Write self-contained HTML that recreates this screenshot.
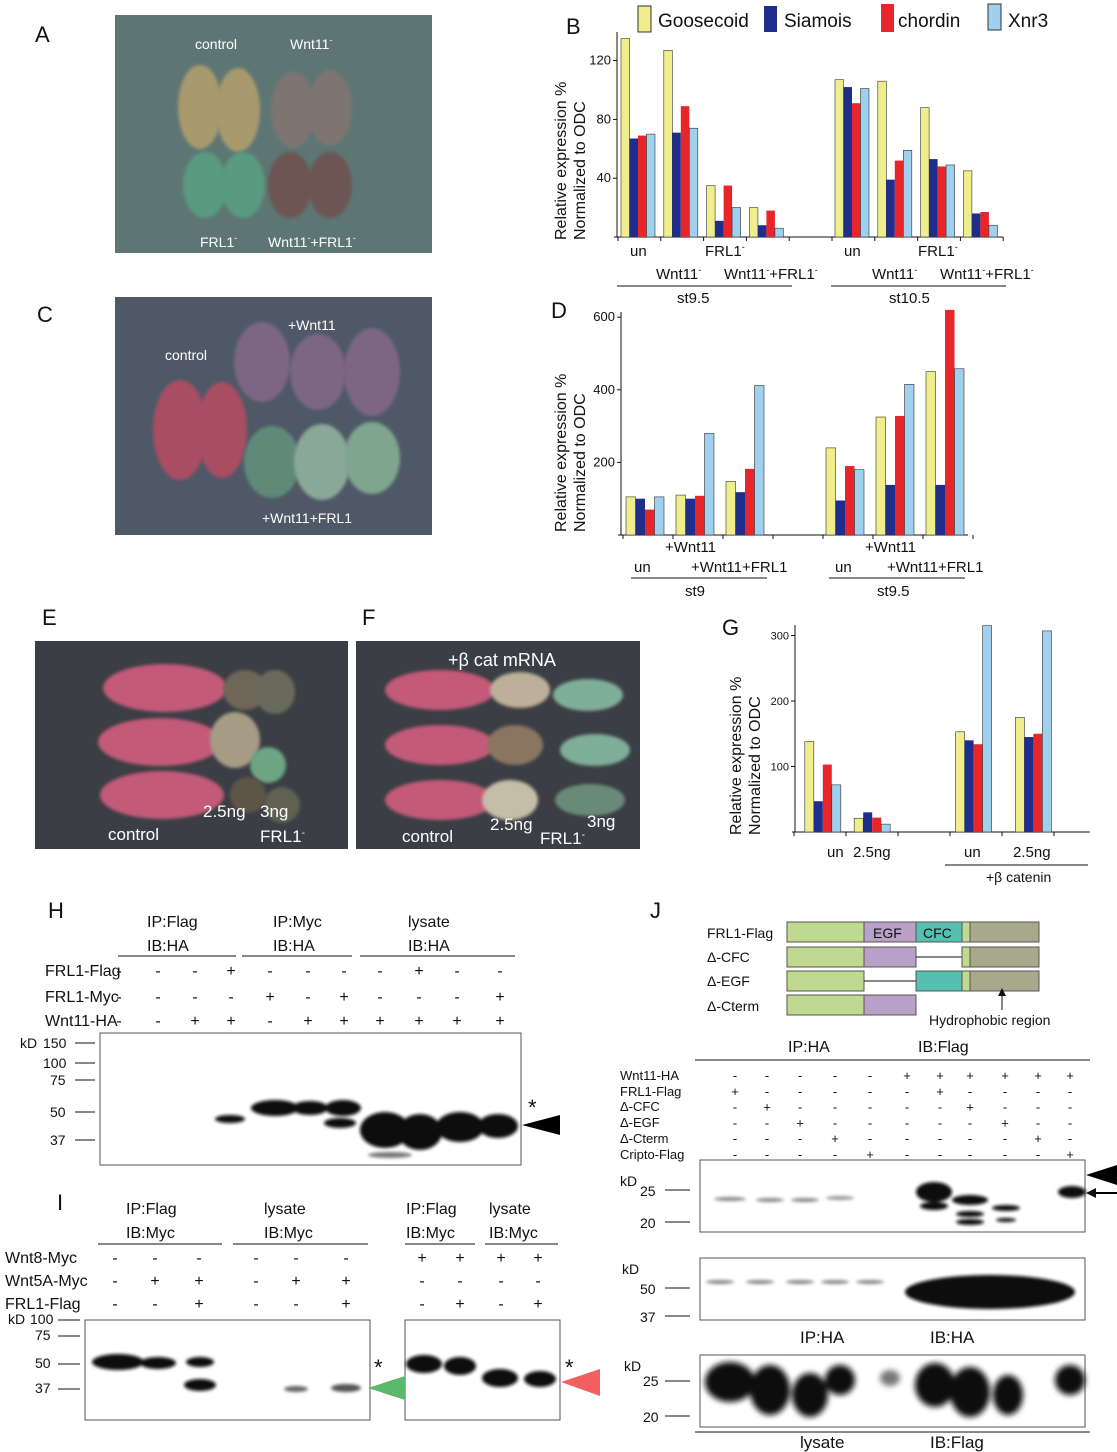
<!DOCTYPE html>
<html><head><meta charset="utf-8"><style>
body{margin:0;background:#fff;}
svg{display:block;font-family:"Liberation Sans",sans-serif;}
</style></head><body>
<svg id="fig" width="1117" height="1452" viewBox="0 0 1117 1452" xmlns="http://www.w3.org/2000/svg">
<defs>
<filter id="bl" x="-50%" y="-50%" width="200%" height="200%"><feGaussianBlur stdDeviation="3"/></filter>
<filter id="bl2" x="-50%" y="-50%" width="200%" height="200%"><feGaussianBlur stdDeviation="1.5"/></filter>
</defs>
<g font-size="22" fill="#111">
<text x="35" y="42">A</text><text x="566" y="34">B</text><text x="37" y="322">C</text><text x="551" y="318">D</text>
<text x="42" y="625">E</text><text x="362" y="625">F</text><text x="722" y="635">G</text>
<text x="48" y="918">H</text><text x="57" y="1210">I</text><text x="650" y="918">J</text>
</g>
<g>
<rect x="115" y="15" width="317" height="238" fill="#5d7674"/>
<ellipse cx="200" cy="107" rx="22" ry="42" fill="#a89a6c" filter="url(#bl2)"/>
<ellipse cx="238" cy="110" rx="22" ry="42" fill="#a89a6c" filter="url(#bl2)"/>
<ellipse cx="293" cy="110" rx="22" ry="38" fill="#7e7470" filter="url(#bl2)"/>
<ellipse cx="330" cy="108" rx="22" ry="38" fill="#7e7470" filter="url(#bl2)"/>
<ellipse cx="205" cy="185" rx="22" ry="33" fill="#5a9a80" filter="url(#bl2)"/>
<ellipse cx="243" cy="185" rx="22" ry="33" fill="#5a9a80" filter="url(#bl2)"/>
<ellipse cx="290" cy="185" rx="22" ry="33" fill="#6d5552" filter="url(#bl2)"/>
<ellipse cx="330" cy="185" rx="22" ry="33" fill="#6d5552" filter="url(#bl2)"/>
<text x="195" y="49" font-size="14" fill="#fff">control</text>
<text x="290" y="49" font-size="14" fill="#fff">Wnt11<tspan dy="-6" font-size="9">-</tspan></text>
<text x="200" y="247" font-size="14" fill="#fff">FRL1<tspan dy="-6" font-size="9">-</tspan></text>
<text x="268" y="247" font-size="14" fill="#fff">Wnt11<tspan font-size="9" dy="-6">-</tspan><tspan dy="6">+FRL1</tspan><tspan font-size="9" dy="-6">-</tspan></text>
</g>
<g>
<rect x="115" y="297" width="317" height="238" fill="#4e5866"/>
<ellipse cx="180" cy="430" rx="27" ry="50" fill="#a94e63" filter="url(#bl2)"/>
<ellipse cx="222" cy="430" rx="25" ry="48" fill="#a94e63" filter="url(#bl2)"/>
<ellipse cx="262" cy="362" rx="28" ry="40" fill="#7d6683" filter="url(#bl2)"/>
<ellipse cx="318" cy="372" rx="28" ry="38" fill="#7d6683" filter="url(#bl2)"/>
<ellipse cx="372" cy="372" rx="28" ry="44" fill="#7d6683" filter="url(#bl2)"/>
<ellipse cx="272" cy="462" rx="28" ry="36" fill="#5e8a7a" filter="url(#bl2)"/>
<ellipse cx="322" cy="462" rx="28" ry="38" fill="#8aa898" filter="url(#bl2)"/>
<ellipse cx="372" cy="458" rx="28" ry="36" fill="#7fa58f" filter="url(#bl2)"/>
<text x="165" y="360" font-size="14" fill="#fff">control</text>
<text x="288" y="330" font-size="14" fill="#fff">+Wnt11</text>
<text x="262" y="523" font-size="14" fill="#fff">+Wnt11+FRL1</text>
</g>
<g>
<rect x="35" y="641" width="313" height="208" fill="#3b3e44"/>
<ellipse cx="165" cy="688" rx="62" ry="24" fill="#c35a78" filter="url(#bl2)"/>
<ellipse cx="160" cy="742" rx="62" ry="24" fill="#c35a78" filter="url(#bl2)"/>
<ellipse cx="162" cy="795" rx="62" ry="24" fill="#c35a78" filter="url(#bl2)"/>
<ellipse cx="245" cy="690" rx="22" ry="20" fill="#6f6658" filter="url(#bl2)"/>
<ellipse cx="275" cy="692" rx="20" ry="22" fill="#6b6b5c" filter="url(#bl2)"/>
<ellipse cx="235" cy="740" rx="25" ry="28" fill="#a69b84" filter="url(#bl2)"/>
<ellipse cx="268" cy="765" rx="18" ry="18" fill="#6ea585" filter="url(#bl2)"/>
<ellipse cx="248" cy="795" rx="18" ry="18" fill="#5f5547" filter="url(#bl2)"/>
<ellipse cx="282" cy="805" rx="18" ry="18" fill="#606052" filter="url(#bl2)"/>
<text x="108" y="840" font-size="17" fill="#fff">control</text>
<text x="203" y="817" font-size="17" fill="#fff">2.5ng</text><text x="260" y="817" font-size="17" fill="#fff">3ng</text>
<text x="260" y="842" font-size="17" fill="#fff">FRL1<tspan dy="-6" font-size="10">-</tspan></text>
</g>
<g>
<rect x="356" y="641" width="284" height="208" fill="#3b3e44"/>
<ellipse cx="440" cy="690" rx="55" ry="20" fill="#c35a78" filter="url(#bl2)"/>
<ellipse cx="440" cy="745" rx="55" ry="20" fill="#c35a78" filter="url(#bl2)"/>
<ellipse cx="440" cy="800" rx="55" ry="20" fill="#c35a78" filter="url(#bl2)"/>
<ellipse cx="520" cy="690" rx="30" ry="18" fill="#bdb09a" filter="url(#bl2)"/>
<ellipse cx="515" cy="745" rx="28" ry="20" fill="#8a7660" filter="url(#bl2)"/>
<ellipse cx="510" cy="800" rx="28" ry="20" fill="#c6bda8" filter="url(#bl2)"/>
<ellipse cx="588" cy="695" rx="35" ry="16" fill="#7faf98" filter="url(#bl2)"/>
<ellipse cx="595" cy="750" rx="35" ry="16" fill="#7faf98" filter="url(#bl2)"/>
<ellipse cx="590" cy="800" rx="35" ry="16" fill="#6a8a78" filter="url(#bl2)"/>
<text x="448" y="666" font-size="18" fill="#fff">+β cat mRNA</text>
<text x="402" y="842" font-size="17" fill="#fff">control</text>
<text x="490" y="830" font-size="17" fill="#fff">2.5ng</text><text x="587" y="827" font-size="17" fill="#fff">3ng</text>
<text x="540" y="844" font-size="17" fill="#fff">FRL1<tspan dy="-6" font-size="10">-</tspan></text>
</g>
<g font-size="19" fill="#111">
<rect x="638" y="6" width="13" height="26" fill="#f0ee8c" stroke="#333"/><text x="658" y="27">Goosecoid</text>
<rect x="764" y="6" width="13" height="26" fill="#1f2e8c"/><text x="784" y="27">Siamois</text>
<rect x="881" y="4" width="13" height="28" fill="#e8262a"/><text x="898" y="27">chordin</text>
<rect x="988" y="4" width="13" height="26" fill="#9fd0ee" stroke="#333"/><text x="1008" y="27">Xnr3</text>
</g>
<g id="charts"></g>
<g font-size="15" fill="#111">
<text x="630" y="256">un</text><text x="705" y="256">FRL1<tspan font-size="9" dy="-6">-</tspan></text>
<text x="844" y="256">un</text><text x="918" y="256">FRL1<tspan font-size="9" dy="-6">-</tspan></text>
<text x="656" y="279">Wnt11<tspan font-size="9" dy="-6">-</tspan></text><text x="724" y="279">Wnt11<tspan font-size="9" dy="-6">-</tspan><tspan dy="6">+FRL1</tspan><tspan font-size="9" dy="-6">-</tspan></text>
<text x="872" y="279">Wnt11<tspan font-size="9" dy="-6">-</tspan></text><text x="940" y="279">Wnt11<tspan font-size="9" dy="-6">-</tspan><tspan dy="6">+FRL1</tspan><tspan font-size="9" dy="-6">-</tspan></text>
<line x1="617" y1="286" x2="792" y2="286" stroke="#111"/><line x1="831" y1="286" x2="1006" y2="286" stroke="#111"/>
<text x="677" y="303">st9.5</text><text x="889" y="303">st10.5</text>
<text transform="translate(566,240) rotate(-90)" font-size="16">Relative expression %</text>
<text transform="translate(585,240) rotate(-90)" font-size="16">Normalized to ODC</text>
</g>
<g font-size="15" fill="#111">
<text x="665" y="552">+Wnt11</text><text x="634" y="572">un</text><text x="691" y="572">+Wnt11+FRL1</text>
<text x="865" y="552">+Wnt11</text><text x="835" y="572">un</text><text x="887" y="572">+Wnt11+FRL1</text>
<line x1="631" y1="578" x2="767" y2="578" stroke="#111"/><line x1="829" y1="578" x2="965" y2="578" stroke="#111"/>
<text x="685" y="596">st9</text><text x="877" y="596">st9.5</text>
<text transform="translate(566,532) rotate(-90)" font-size="16">Relative expression %</text>
<text transform="translate(585,532) rotate(-90)" font-size="16">Normalized to ODC</text>
</g>
<g font-size="15" fill="#111">
<text x="827" y="857">un</text><text x="853" y="857">2.5ng</text><text x="964" y="857">un</text><text x="1013" y="857">2.5ng</text>
<line x1="945" y1="865" x2="1088" y2="865" stroke="#111"/>
<text x="986" y="882" font-size="14">+β catenin</text>
<text transform="translate(741,835) rotate(-90)" font-size="16">Relative expression %</text>
<text transform="translate(760,835) rotate(-90)" font-size="16">Normalized to ODC</text>
</g>
<g font-size="16" fill="#111">
<text x="147" y="927">IP:Flag</text><text x="147" y="951">IB:HA</text><text x="273" y="927">IP:Myc</text><text x="273" y="951">IB:HA</text>
<text x="408" y="927">lysate</text><text x="408" y="951">IB:HA</text>
<line x1="118" y1="956" x2="236" y2="956" stroke="#111"/><line x1="242" y1="956" x2="352" y2="956" stroke="#111"/><line x1="360" y1="956" x2="515" y2="956" stroke="#111"/>
<text x="45" y="976">FRL1-Flag</text><text x="45" y="1002">FRL1-Myc</text><text x="45" y="1026">Wnt11-HA</text>
<g text-anchor="middle">
<text x="119" y="976">-</text><text x="158" y="976">-</text><text x="195" y="976">-</text><text x="231" y="976">+</text><text x="270" y="976">-</text><text x="308" y="976">-</text><text x="344" y="976">-</text><text x="380" y="976">-</text><text x="419" y="976">+</text><text x="457" y="976">-</text><text x="500" y="976">-</text>
<text x="119" y="1002">-</text><text x="158" y="1002">-</text><text x="195" y="1002">-</text><text x="231" y="1002">-</text><text x="270" y="1002">+</text><text x="308" y="1002">-</text><text x="344" y="1002">+</text><text x="380" y="1002">-</text><text x="419" y="1002">-</text><text x="457" y="1002">-</text><text x="500" y="1002">+</text>
<text x="119" y="1026">-</text><text x="158" y="1026">-</text><text x="195" y="1026">+</text><text x="231" y="1026">+</text><text x="270" y="1026">-</text><text x="308" y="1026">+</text><text x="344" y="1026">+</text><text x="380" y="1026">+</text><text x="419" y="1026">+</text><text x="457" y="1026">+</text><text x="500" y="1026">+</text>
</g>
<rect x="100" y="1033" width="421" height="132" fill="#fff" stroke="#555"/>
<g font-size="14"><text x="20" y="1048">kD</text><text x="43" y="1048">150</text><text x="43" y="1068">100</text><text x="50" y="1085">75</text><text x="50" y="1117">50</text><text x="50" y="1145">37</text></g>
<g stroke="#111"><line x1="75" y1="1043" x2="95" y2="1043"/><line x1="75" y1="1063" x2="95" y2="1063"/><line x1="75" y1="1080" x2="95" y2="1080"/><line x1="75" y1="1112" x2="95" y2="1112"/><line x1="75" y1="1140" x2="95" y2="1140"/></g>
<g fill="#111" filter="url(#bl2)">
<ellipse cx="230" cy="1119" rx="15" ry="4"/>
<ellipse cx="275" cy="1108" rx="24" ry="8"/><ellipse cx="310" cy="1108" rx="18" ry="7"/><ellipse cx="343" cy="1108" rx="18" ry="8"/><ellipse cx="340" cy="1123" rx="16" ry="5"/>
<ellipse cx="385" cy="1130" rx="25" ry="18"/><ellipse cx="420" cy="1132" rx="22" ry="18"/><ellipse cx="460" cy="1127" rx="24" ry="15"/><ellipse cx="498" cy="1126" rx="20" ry="12"/>
<ellipse cx="390" cy="1155" rx="22" ry="3" fill="#777"/>
</g>
<text x="528" y="1115" font-size="22">*</text>
<polygon points="522,1125 560,1115 560,1135" fill="#000"/>
</g>
<g font-size="16" fill="#111">
<text x="126" y="1214">IP:Flag</text><text x="126" y="1238">IB:Myc</text><text x="264" y="1214">lysate</text><text x="264" y="1238">IB:Myc</text>
<text x="406" y="1214">IP:Flag</text><text x="406" y="1238">IB:Myc</text><text x="489" y="1214">lysate</text><text x="489" y="1238">IB:Myc</text>
<line x1="98" y1="1244" x2="222" y2="1244" stroke="#111"/><line x1="233" y1="1244" x2="368" y2="1244" stroke="#111"/><line x1="405" y1="1244" x2="475" y2="1244" stroke="#111"/><line x1="485" y1="1244" x2="558" y2="1244" stroke="#111"/>
<text x="5" y="1263">Wnt8-Myc</text><text x="5" y="1286">Wnt5A-Myc</text><text x="5" y="1309">FRL1-Flag</text>
<g text-anchor="middle">
<text x="115" y="1263">-</text><text x="155" y="1263">-</text><text x="199" y="1263">-</text><text x="256" y="1263">-</text><text x="296" y="1263">-</text><text x="346" y="1263">-</text><text x="422" y="1263">+</text><text x="460" y="1263">+</text><text x="501" y="1263">+</text><text x="538" y="1263">+</text>
<text x="115" y="1286">-</text><text x="155" y="1286">+</text><text x="199" y="1286">+</text><text x="256" y="1286">-</text><text x="296" y="1286">+</text><text x="346" y="1286">+</text><text x="422" y="1286">-</text><text x="460" y="1286">-</text><text x="501" y="1286">-</text><text x="538" y="1286">-</text>
<text x="115" y="1309">-</text><text x="155" y="1309">-</text><text x="199" y="1309">+</text><text x="256" y="1309">-</text><text x="296" y="1309">-</text><text x="346" y="1309">+</text><text x="422" y="1309">-</text><text x="460" y="1309">+</text><text x="501" y="1309">-</text><text x="538" y="1309">+</text>
</g>
<rect x="85" y="1320" width="285" height="100" fill="#fff" stroke="#555"/><rect x="405" y="1320" width="155" height="100" fill="#fff" stroke="#555"/>
<g font-size="14"><text x="8" y="1324">kD</text><text x="30" y="1324">100</text><text x="35" y="1340">75</text><text x="35" y="1368">50</text><text x="35" y="1393">37</text></g>
<g stroke="#111"><line x1="58" y1="1320" x2="80" y2="1320"/><line x1="58" y1="1336" x2="80" y2="1336"/><line x1="58" y1="1364" x2="80" y2="1364"/><line x1="58" y1="1389" x2="80" y2="1389"/></g>
<g fill="#111" filter="url(#bl2)">
<ellipse cx="118" cy="1362" rx="26" ry="8"/><ellipse cx="158" cy="1363" rx="18" ry="6"/><ellipse cx="200" cy="1362" rx="14" ry="5"/><ellipse cx="200" cy="1385" rx="16" ry="6"/>
<ellipse cx="296" cy="1389" rx="12" ry="3" fill="#666"/><ellipse cx="346" cy="1388" rx="15" ry="4" fill="#555"/>
<ellipse cx="424" cy="1364" rx="18" ry="9"/><ellipse cx="460" cy="1366" rx="16" ry="9"/><ellipse cx="500" cy="1378" rx="18" ry="9"/><ellipse cx="540" cy="1379" rx="16" ry="8"/>
</g>
<text x="374" y="1375" font-size="22">*</text><text x="565" y="1375" font-size="22">*</text>
<polygon points="368,1388 405,1376 405,1400" fill="#5cb86a"/>
<polygon points="561,1382 600,1369 600,1396" fill="#f06060"/>
</g>
<g font-size="14" fill="#111">
<text x="707" y="938">FRL1-Flag</text><text x="707" y="962">Δ-CFC</text><text x="707" y="986">Δ-EGF</text><text x="707" y="1011">Δ-Cterm</text>
<rect x="787" y="922" width="252" height="20" fill="#c0d990" stroke="#555"/><rect x="864" y="922" width="52" height="20" fill="#b9a0c8" stroke="#555"/><rect x="916" y="922" width="46" height="20" fill="#55c0b0" stroke="#555"/><rect x="970" y="922" width="69" height="20" fill="#a7a88c" stroke="#555"/>
<text x="873" y="938">EGF</text><text x="923" y="938">CFC</text>
<rect x="787" y="947" width="77" height="20" fill="#c0d990" stroke="#555"/><rect x="864" y="947" width="52" height="20" fill="#b9a0c8" stroke="#555"/><line x1="916" y1="957" x2="962" y2="957" stroke="#111"/><rect x="962" y="947" width="8" height="20" fill="#c0d990" stroke="#555"/><rect x="970" y="947" width="69" height="20" fill="#a7a88c" stroke="#555"/>
<rect x="787" y="971" width="77" height="20" fill="#c0d990" stroke="#555"/><line x1="864" y1="981" x2="916" y2="981" stroke="#111"/><rect x="916" y="971" width="46" height="20" fill="#55c0b0" stroke="#555"/><rect x="962" y="971" width="8" height="20" fill="#c0d990" stroke="#555"/><rect x="970" y="971" width="69" height="20" fill="#a7a88c" stroke="#555"/>
<rect x="787" y="995" width="77" height="20" fill="#c0d990" stroke="#555"/><rect x="864" y="995" width="52" height="20" fill="#b9a0c8" stroke="#555"/>
<line x1="1002" y1="1010" x2="1002" y2="994" stroke="#111"/><polygon points="998,996 1006,996 1002,988"/>
<text x="929" y="1025">Hydrophobic region</text>
<text x="788" y="1052" font-size="16">IP:HA</text><text x="918" y="1052" font-size="16">IB:Flag</text>
<line x1="695" y1="1060" x2="1090" y2="1060" stroke="#111"/>
<g font-size="13"><text x="620" y="1080">Wnt11-HA</text><text x="620" y="1096">FRL1-Flag</text><text x="620" y="1111">Δ-CFC</text><text x="620" y="1127">Δ-EGF</text><text x="620" y="1143">Δ-Cterm</text><text x="620" y="1159">Cripto-Flag</text></g>
<g text-anchor="middle" font-size="13" id="jmarks"></g>
<rect x="700" y="1160" width="385" height="72" fill="#fff" stroke="#555"/>
<text x="620" y="1186">kD</text><text x="640" y="1196">25</text><text x="640" y="1228">20</text>
<line x1="665" y1="1190" x2="690" y2="1190" stroke="#111"/><line x1="665" y1="1222" x2="690" y2="1222" stroke="#111"/>
<g fill="#111" filter="url(#bl2)">
<ellipse cx="730" cy="1199" rx="16" ry="2" fill="#888"/><ellipse cx="770" cy="1200" rx="14" ry="2" fill="#888"/><ellipse cx="805" cy="1200" rx="14" ry="2" fill="#888"/><ellipse cx="840" cy="1198" rx="14" ry="2" fill="#999"/>
<ellipse cx="934" cy="1192" rx="18" ry="10"/><ellipse cx="934" cy="1206" rx="14" ry="4"/><ellipse cx="970" cy="1200" rx="18" ry="5"/><ellipse cx="970" cy="1214" rx="14" ry="3"/><ellipse cx="970" cy="1222" rx="14" ry="3"/>
<ellipse cx="1006" cy="1208" rx="14" ry="3"/><ellipse cx="1006" cy="1220" rx="10" ry="2"/><ellipse cx="1072" cy="1192" rx="14" ry="6"/>
</g>
<polygon points="1086,1175 1117,1165 1117,1185" fill="#000"/>
<line x1="1090" y1="1193" x2="1117" y2="1193" stroke="#000" stroke-width="2"/><polygon points="1086,1193 1096,1188 1096,1198"/>
<rect x="700" y="1258" width="385" height="62" fill="#fff" stroke="#555"/>
<text x="622" y="1274">kD</text><text x="640" y="1294">50</text><text x="640" y="1322">37</text>
<line x1="665" y1="1288" x2="690" y2="1288" stroke="#111"/><line x1="665" y1="1316" x2="690" y2="1316" stroke="#111"/>
<g fill="#111" filter="url(#bl2)">
<ellipse cx="720" cy="1282" rx="14" ry="2" fill="#888"/><ellipse cx="760" cy="1282" rx="14" ry="2" fill="#888"/><ellipse cx="800" cy="1282" rx="14" ry="2" fill="#888"/><ellipse cx="835" cy="1282" rx="14" ry="2" fill="#888"/><ellipse cx="870" cy="1282" rx="14" ry="2" fill="#888"/>
<ellipse cx="990" cy="1292" rx="85" ry="17"/>
</g>
<text x="800" y="1343" font-size="17">IP:HA</text><text x="930" y="1343" font-size="17">IB:HA</text>
<rect x="700" y="1355" width="385" height="72" fill="#fff" stroke="#555"/>
<text x="624" y="1371">kD</text><text x="643" y="1386">25</text><text x="643" y="1422">20</text>
<line x1="665" y1="1381" x2="690" y2="1381" stroke="#111"/><line x1="665" y1="1416" x2="690" y2="1416" stroke="#111"/>
<g fill="#111" filter="url(#bl)">
<ellipse cx="730" cy="1382" rx="25" ry="20"/><ellipse cx="770" cy="1390" rx="20" ry="25"/><ellipse cx="810" cy="1395" rx="18" ry="22"/><ellipse cx="840" cy="1380" rx="15" ry="15"/>
<ellipse cx="935" cy="1385" rx="20" ry="22"/><ellipse cx="970" cy="1392" rx="20" ry="25"/><ellipse cx="1008" cy="1395" rx="15" ry="20"/><ellipse cx="1070" cy="1380" rx="15" ry="15"/><ellipse cx="890" cy="1378" rx="10" ry="8" fill="#777"/>
</g>
<text x="800" y="1448" font-size="17">lysate</text><text x="930" y="1448" font-size="17">IB:Flag</text>
<line x1="695" y1="1432" x2="1090" y2="1432" stroke="#111"/>
</g>
</svg>
<script>
// Panel B data
const bCategories = ["un st9.5","Wnt11- st9.5","FRL1- st9.5","Wnt11-+FRL1- st9.5","un st10.5","Wnt11- st10.5","FRL1- st10.5","Wnt11-+FRL1- st10.5"];
const bGoosecoid = [135,127,35,20,107,106,88,45];
const bSiamois = [67,71,11,8,102,39,53,16];
const bChordin = [69,89,35,18,91,52,48,17];
const bXnr3 = [70,74,20,6,101,59,49,8];
const bTicks = [40,80,120];
// Panel D data
const dCategories = ["un st9","+Wnt11 st9","+Wnt11+FRL1 st9","un st9.5","+Wnt11 st9.5","+Wnt11+FRL1 st9.5"];
const dGoosecoid = [105,110,148,240,325,450];
const dSiamois = [100,100,118,95,138,138];
const dChordin = [70,108,182,190,328,620];
const dXnr3 = [105,280,412,180,415,458];
const dTicks = [200,400,600];
// Panel G data
const gCategories = ["un","2.5ng","un +bcat","2.5ng +bcat"];
const gGoosecoid = [138,21,153,175];
const gSiamois = [47,30,140,145];
const gChordin = [103,22,134,150];
const gXnr3 = [72,12,315,307];
const gTicks = [100,200,300];

const NS="http://www.w3.org/2000/svg";
const root=document.getElementById('charts');
const colors=["#f0ee8c","#1f2e8c","#e8262a","#9fd0ee"];
function mk(tag,attrs,parent){const e=document.createElementNS(NS,tag);for(const k in attrs)e.setAttribute(k,attrs[k]);parent.appendChild(e);return e;}
function chart(name,series,cats,ticks,geo){
  const g=mk('g',{},root);
  
  
  const y=v=>geo.base-v*geo.scale;
  const slot=i=>geo.x0+geo.slots[i]*geo.step;
  mk('line',{x1:geo.ax,y1:geo.base,x2:geo.ax,y2:geo.top,stroke:'#111'},g);
  mk('line',{x1:geo.ax-3,y1:geo.base,x2:geo.xend,y2:geo.base,stroke:'#111'},g);
  ticks.forEach(t=>{
    mk('line',{x1:geo.ax-4,y1:y(t),x2:geo.ax,y2:y(t),stroke:'#111'},g);
    const tx=mk('text',{x:geo.ax-6,y:y(t)+4,'font-size':geo.fs,'text-anchor':'end',fill:'#111'},g);
    tx.textContent=t;
    
    
  });
  for(let s=0;s<=geo.nslots;s++){mk('line',{x1:geo.x0-3+s*geo.step,y1:geo.base,x2:geo.x0-3+s*geo.step,y2:geo.base+4,stroke:'#111'},g);}
  cats.forEach((c,i)=>{
    series.forEach((arr,si)=>{
      const r=mk('rect',{x:slot(i)+si*geo.bw,y:y(arr[i]),width:geo.bw,height:arr[i]*geo.scale,fill:colors[si],stroke:si===1||si===2?'none':'#333','stroke-width':0.6},g);
      
      
    });
  });
}
chart('chart-b',[bGoosecoid,bSiamois,bChordin,bXnr3],bCategories,bTicks,{ax:617,base:237,top:32,scale:1.47,x0:621,step:42.8,slots:[0,1,2,3,5,6,7,8],bw:8.5,xend:1003,nslots:9,fs:13});
chart('chart-d',[dGoosecoid,dSiamois,dChordin,dXnr3],dCategories,dTicks,{ax:621,base:535,top:312,scale:0.363,x0:626,step:50,slots:[0,1,2,4,5,6],bw:9.5,xend:968,nslots:7,fs:13});
chart('chart-g',[gGoosecoid,gSiamois,gChordin,gXnr3],gCategories,gTicks,{ax:795,base:832,top:625,scale:0.655,x0:797,step:52,slots:[0.15,1.1,3.05,4.2],bw:9,xend:1090,nslots:5.5,fs:11});
const jm=document.getElementById('jmarks');
const jx=[735,767,800,835,870,907,940,970,1005,1038,1070];
const jrows=[["-","-","-","-","-","-","+","+","+","+","+","+"],["-","+","-","-","-","-","-","+","-","-","-","-"],["-","-","+","-","-","-","-","-","+","-","-","-"],["-","-","-","+","-","-","-","-","-","+","-","-"],["-","-","-","-","+","-","-","-","-","-","+","-"],["-","-","-","-","-","+","-","-","-","-","-","+"]];
jrows.forEach((row,r)=>{row.slice(1).forEach((v,i)=>{const t=mk('text',{x:jx[i],y:1080+r*15.8},jm);t.textContent=v;});});
</script>
</body></html>
